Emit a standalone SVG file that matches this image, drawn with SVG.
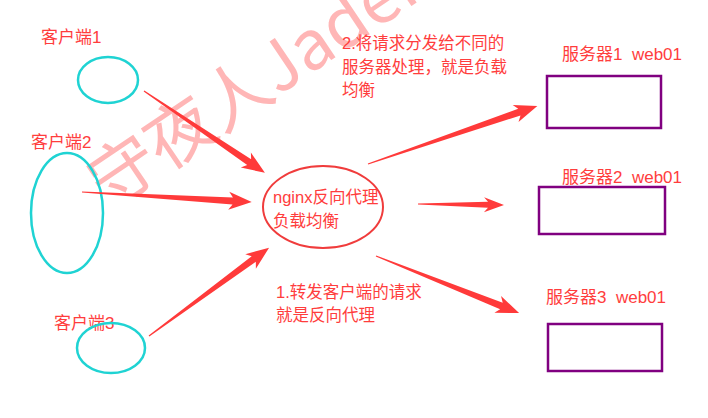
<svg xmlns="http://www.w3.org/2000/svg" width="708" height="418" viewBox="0 0 708 418">
<style>
.t{font-family:"Liberation Sans","Noto Sans CJK SC",sans-serif;font-size:16.5px;fill:#ff3d3d}
.l{font-size:17px}
.cl{fill:none;stroke:#1fd3d3;stroke-width:2.5}
.srv{fill:#fff;stroke:#800080;stroke-width:2.5}
.ng{fill:none;stroke:#f03c3c;stroke-width:2}
.ar{fill:#ff3a3a}
.wm{font-family:"Noto Sans CJK SC","Liberation Sans",sans-serif;font-size:68px;font-weight:400;fill:#ffb6b6}
</style>
<rect width="708" height="418" fill="#fff"/>
<text class="wm" transform="translate(109,210) rotate(-34)">守夜人Jaden's</text>
<g id="client1"><text class="t l" x="41" y="43">客户端1</text><ellipse class="cl" cx="108" cy="80" rx="30" ry="23"/></g>
<g id="client2"><text class="t l" x="31" y="148">客户端2</text><ellipse class="cl" cx="67" cy="213" rx="36" ry="60"/></g>
<g id="client3"><text class="t l" x="54" y="329">客户端3</text><ellipse class="cl" cx="111" cy="348" rx="34" ry="25"/></g>
<g id="nginx"><ellipse class="ng" cx="323" cy="207" rx="60" ry="41"/><text class="t" x="273" y="203">nginx反向代理</text><text class="t" x="273" y="227">负载均衡</text></g>
<g id="server1"><text class="t l" x="562" y="60" xml:space="preserve">服务器1  web01</text><rect class="srv" x="547" y="76" width="114" height="52"/></g>
<g id="server2"><text class="t l" x="562" y="183" xml:space="preserve">服务器2  web01</text><rect class="srv" x="539" y="187" width="126" height="47"/></g>
<g id="server3"><text class="t l" x="546" y="303" xml:space="preserve">服务器3  web01</text><rect class="srv" x="548" y="324" width="114" height="47"/></g>
<g id="notes">
<text class="t" x="342" y="49">2.将请求分发给不同的</text>
<text class="t" x="342" y="73">服务器处理，就是负载</text>
<text class="t" x="342" y="96">均衡</text>
<text class="t" x="276" y="298">1.转发客户端的请求</text>
<text class="t" x="276" y="321">就是反向代理</text>
</g>
<g id="connectors">
<path class="ar" transform="translate(144,91) rotate(34.1)" d="M0,-0.6 L127,-3.5 L123,-9 L146,0 L123,9 L127,3.5 L0,0.6Z"/>
<path class="ar" transform="translate(82,192) rotate(3.4)" d="M0,-0.6 L151,-3.5 L147,-9 L170,0 L147,9 L151,3.5 L0,0.6Z"/>
<path class="ar" transform="translate(149,336) rotate(-36.3)" d="M0,-0.6 L130,-3.5 L126,-9 L149,0 L126,9 L130,3.5 L0,0.6Z"/>
<path class="ar" transform="translate(368,164) rotate(-18.9)" d="M0,-0.6 L160,-3.5 L156,-9 L179,0 L156,9 L160,3.5 L0,0.6Z"/>
<path class="ar" transform="translate(418,204) rotate(0.7)" d="M0,-0.6 L70,-3 L66,-7.5 L86,0 L66,7.5 L70,3 L0,0.6Z"/>
<path class="ar" transform="translate(376,256) rotate(21.7)" d="M0,-0.6 L135,-3.5 L131,-9 L154,0 L131,9 L135,3.5 L0,0.6Z"/>
</g>
</svg>
